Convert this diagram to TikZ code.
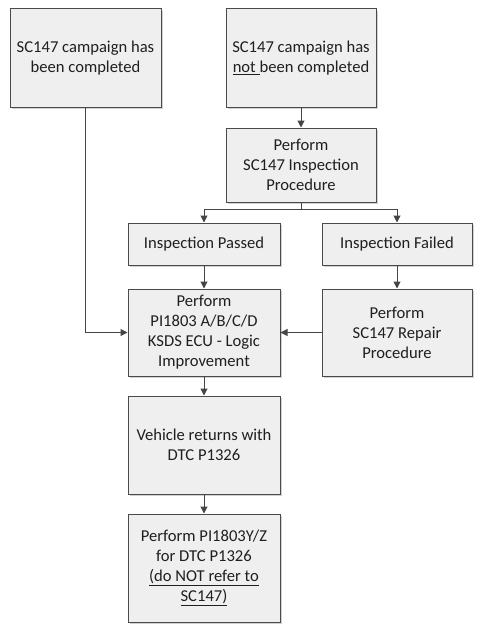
\documentclass[tikz,border=0pt]{standalone}
\usepackage{fontspec}
\setmainfont{Carlito}
\usetikzlibrary{arrows.meta,shadows}
\definecolor{boxfill}{HTML}{EFEFEF}
\definecolor{boxline}{HTML}{4A4A4A}
\definecolor{lineclr}{HTML}{454545}
\begin{document}
\begin{tikzpicture}[x=1pt,y=1pt,
  box/.style={draw=boxline, line width=1pt, fill=boxfill, align=center,
    inner sep=2pt, text=black!88,
    font=\fontsize{16.6}{20}\selectfont,
    drop shadow={shadow xshift=2pt, shadow yshift=-2pt, fill=black!18, opacity=1}},
  arr/.style={draw=lineclr, line width=1pt, -{Triangle[length=7pt,width=7pt]}},
  ln/.style={draw=lineclr, line width=1pt}]
\useasboundingbox (0,0) rectangle (485,-634);
\node[box, minimum width=151pt, minimum height=98pt] (A) at (85.5,-58) {SC147 campaign has\\been completed};
\node[box, minimum width=150pt, minimum height=98pt] (B) at (301,-58) {SC147 campaign has\\\underline{not\ }been completed};
\node[box, minimum width=150pt, minimum height=74pt] (C) at (301,-165) {Perform\\SC147 Inspection\\Procedure};
\node[box, minimum width=152pt, minimum height=42pt] (P) at (204,-244) {Inspection Passed};
\node[box, minimum width=150pt, minimum height=42pt] (F) at (397,-244) {Inspection Failed};
\node[box, minimum width=152pt, minimum height=87pt] (I) at (204,-332.5) {Perform\\PI1803 A/B/C/D\\KSDS ECU - Logic\\Improvement};
\node[box, minimum width=150pt, minimum height=87pt] (R) at (397,-332.5) {Perform\\SC147 Repair\\Procedure};
\node[box, minimum width=152pt, minimum height=98pt] (V) at (204,-445) {Vehicle returns with\\DTC P1326};
\node[box, minimum width=152pt, minimum height=108pt] (Z) at (204,-568) {Perform PI1803Y/Z\\for DTC P1326\\\underline{(do NOT refer to}\\\underline{SC147)}};
\coordinate (split) at (301,-209);
\draw[arr] (B) -- (C);
\draw[ln] (C) -- (split);
\draw[arr] (split) -| (P);
\draw[arr] (split) -| (F);
\draw[arr] (P) -- (I);
\draw[arr] (F) -- (R);
\draw[arr] (R) -- (I);
\draw[arr] (A) |- (I);
\draw[arr] (I) -- (V);
\draw[arr] (V) -- (Z);
\end{tikzpicture}
\end{document}
